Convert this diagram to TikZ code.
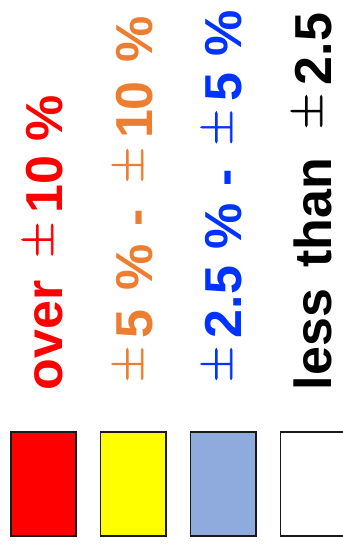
\documentclass[tikz,border=0pt]{standalone}
\usepackage{fontspec}
\setmainfont{Liberation Sans}
\newfontfamily\pmfont[FakeBold=1.3]{Latin Modern Roman}
\newlength\lgws
\newcommand\pmx{\makebox[1em]{\raisebox{9pt}{\pmfont\mdseries\fontsize{50pt}{50pt}\selectfont ±}}}
\newcommand\ws{\hspace*{\lgws}}
\definecolor{lgred}{RGB}{255,0,0}
\definecolor{lgorange}{RGB}{237,125,49}
\definecolor{lgblue}{RGB}{0,51,255}
\definecolor{lgboxblue}{RGB}{143,170,220}
\definecolor{lgyellow}{RGB}{255,255,0}
\begin{document}
\begin{tikzpicture}[x=1pt,y=-1pt,
  swatch/.style={draw=black!90, line width=1.7pt, minimum width=65.3pt, minimum height=104.3pt, inner sep=0pt, outer sep=0pt},
  label/.style={rotate=90, anchor=base west, inner sep=0pt, outer sep=0pt,
    font=\bfseries\fontsize{52pt}{52pt}\selectfont},
  gap/.style={execute at begin node={\setlength\lgws{#1}}}]
\useasboundingbox (0,0) rectangle (342,553);
\node[swatch, fill=lgred] (s1) at (43.4,484) {};
\node[swatch, fill=lgyellow] (s2) at (133.2,484) {};
\node[swatch, fill=lgboxblue] (s3) at (223.2,484) {};
\node[swatch, fill=white] (s4) at (313.2,484) {};
\node[label, gap=14.5pt, text=lgred] (t1) at (62,390) {over\ws\pmx10\ws\%};
\node[label, gap=18.2pt, text=lgorange] (t2) at (152,390) {\pmx5\ws\%\ws-\ws\pmx10\ws\%};
\node[label, gap=16.3pt, text=lgblue] (t3) at (241,390) {\pmx2.5\ws\%\ws-\ws\pmx5\ws\%};
\node[label, gap=21pt, text=black] (t4) at (331,390) {less\ws than\ws\pmx2.5};
\end{tikzpicture}
\end{document}
